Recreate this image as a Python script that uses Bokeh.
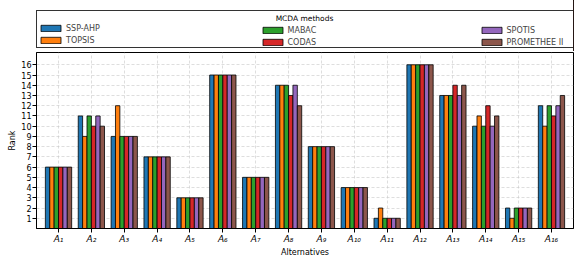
from bokeh.plotting import figure
from bokeh.layouts import column
from bokeh.models import (ColumnDataSource, Legend, LegendItem, Label,
                          FixedTicker, Range1d)
from bokeh.transform import dodge
from bokeh.embed import file_html
from bokeh.resources import INLINE

# ---- data ----
alternatives = ["A\u2081", "A\u2082", "A\u2083", "A\u2084", "A\u2085", "A\u2086",
                "A\u2087", "A\u2088", "A\u2089", "A\u2081\u2080", "A\u2081\u2081",
                "A\u2081\u2082", "A\u2081\u2083", "A\u2081\u2084", "A\u2081\u2085",
                "A\u2081\u2086"]
methods = ["SSP-AHP", "TOPSIS", "MABAC", "CODAS", "SPOTIS", "PROMETHEE II"]
colors = ["#1f77b4", "#ff7f0e", "#2ca02c", "#d62728", "#9467bd", "#8c564b"]

ssp_ahp   = [6, 11, 9, 7, 3, 15, 5, 14, 8, 4, 1, 16, 13, 10, 2, 12]
topsis    = [6, 9, 12, 7, 3, 15, 5, 14, 8, 4, 2, 16, 13, 11, 1, 10]
mabac     = [6, 11, 9, 7, 3, 15, 5, 14, 8, 4, 1, 16, 13, 10, 2, 12]
codas     = [6, 10, 9, 7, 3, 15, 5, 13, 8, 4, 1, 16, 14, 12, 2, 11]
spotis    = [6, 11, 9, 7, 3, 15, 5, 14, 8, 4, 1, 16, 13, 10, 2, 12]
promethee = [6, 10, 9, 7, 3, 15, 5, 12, 8, 4, 1, 16, 14, 11, 2, 13]
rank_ticks = list(range(1, 17))

series = [ssp_ahp, topsis, mabac, codas, spotis, promethee]
keys = ["s0", "s1", "s2", "s3", "s4", "s5"]

positions = list(range(len(alternatives)))
data = {"x": positions}
for k, s in zip(keys, series):
    data[k] = s
src = ColumnDataSource(data)

FONT = "DejaVu Sans"
bw = 0.8 / len(methods)

# ---------------- main chart ----------------
p = figure(frame_width=537, frame_height=176,
           x_range=Range1d(-0.67, len(alternatives) - 1 + 0.67),
           y_range=Range1d(0, 17.2),
           output_backend="svg", toolbar_location=None,
           min_border_left=36, min_border_right=8,
           min_border_top=1, min_border_bottom=36)

for i, (k, c) in enumerate(zip(keys, colors)):
    p.vbar(x=dodge("x", (i - 2.5) * bw, range=p.x_range), top=k, width=bw,
           bottom=0, source=src, fill_color=c, line_color="black",
           line_width=0.8)

p.xaxis.ticker = FixedTicker(ticks=positions)
p.xaxis.major_label_overrides = {i: lab for i, lab in enumerate(alternatives)}
p.yaxis.ticker = FixedTicker(ticks=rank_ticks)
for ax in (p.xaxis[0], p.yaxis[0]):
    ax.major_tick_out = 4
    ax.major_tick_in = 0
    ax.minor_tick_line_color = None
    ax.axis_line_color = "black"
    ax.major_tick_line_color = "black"
    ax.major_label_text_font = FONT
    ax.axis_label_text_font = FONT
    ax.axis_label_text_font_style = "normal"
    ax.axis_label_text_font_size = "8px"
    ax.axis_label_text_color = "black"
    ax.major_label_text_color = "black"
    ax.major_label_standoff = 1
p.xaxis.axis_label_standoff = 1
p.yaxis.axis_label_standoff = 1
p.xaxis.axis_label = "Alternatives"
p.yaxis.axis_label = "Rank"
p.xaxis.major_label_text_font_size = "9px"
p.xaxis.major_label_text_font_style = "italic"
p.yaxis.major_label_text_font_size = "8px"

p.xgrid.ticker = FixedTicker(ticks=positions)
p.ygrid.ticker = FixedTicker(ticks=rank_ticks)
for g in (p.xgrid[0], p.ygrid[0]):
    g.grid_line_color = "#c8c8c8"
    g.grid_line_dash = "3 2"
    g.grid_line_width = 0.6

p.outline_line_color = "black"
p.outline_line_width = 1
p.outline_line_alpha = 1

# ---------------- legend strip ----------------
lf = figure(frame_width=537, frame_height=51,
            x_range=Range1d(-30, -29), y_range=Range1d(0, 1),
            output_backend="svg", toolbar_location=None,
            x_axis_location=None, y_axis_location=None,
            min_border_left=36, min_border_right=8,
            min_border_top=0, min_border_bottom=0)
lf.grid.visible = False
lf.outline_line_color = None

# legend proxies (same data, outside the strip's visible range)
swatches = []
for k, c in zip(keys, colors):
    swatches.append(lf.vbar(x="x", top=k, width=bw, source=src, fill_color=c,
                            line_color="black", line_width=0.8))

common = dict(orientation="vertical", padding=1, spacing=0, margin=0,
              glyph_width=25, glyph_height=8, label_height=12,
              label_standoff=3, label_text_font=FONT,
              label_text_font_size="8px", title="MCDA methods",
              title_text_font_size="7.5px", title_text_color=None,
              title_standoff=1, background_fill_alpha=0)

leg1 = Legend(items=[LegendItem(label=methods[j], renderers=[swatches[j]]) for j in (0, 1)],
              location=(0, 3), label_width=506,
              border_line_color="black", border_line_width=1,
              border_line_alpha=0.8, **common)
leg2 = Legend(items=[LegendItem(label=methods[j], renderers=[swatches[j]]) for j in (2, 3)],
              location=(223.5, 3), label_width=40,
              border_line_color=None, **common)
leg3 = Legend(items=[LegendItem(label=methods[j], renderers=[swatches[j]]) for j in (4, 5)],
              location=(442.5, 3), label_width=40,
              border_line_color=None, **common)
for lg in (leg1, leg2, leg3):
    lf.add_layout(lg)

lf.add_layout(Label(x=268, y=33, x_units="screen", y_units="screen",
                    text="MCDA methods", text_align="center",
                    text_baseline="middle", text_font=FONT,
                    text_font_size="7.5px", text_color="black",
                    level="overlay"))

layout = column(lf, p, spacing=0)
open("out.html", "w").write(file_html(layout, INLINE))
